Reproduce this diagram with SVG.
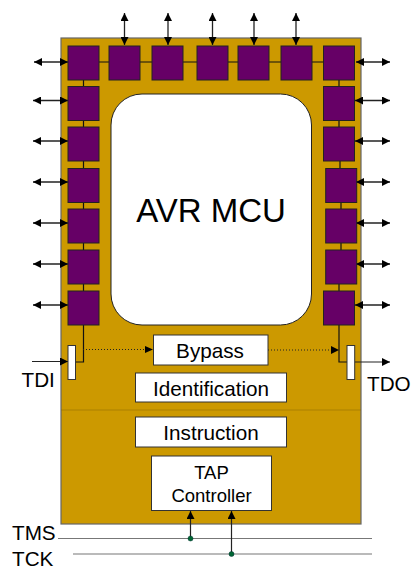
<svg xmlns="http://www.w3.org/2000/svg" width="411" height="566" viewBox="0 0 411 566">
<style>
text{font-family:"Liberation Sans",Arial,sans-serif;fill:#000}
.c{text-anchor:middle}
.sq{fill:#660066;stroke:#222;stroke-width:1}
.box{fill:#fff;stroke:#333;stroke-width:1}
.w{fill:none;stroke:#111;stroke-width:1.2}
.d{fill:none;stroke:#222;stroke-width:1;stroke-dasharray:1 2}
.a{fill:none;stroke:#222;stroke-width:1.3;marker-start:url(#h);marker-end:url(#h)}
.s{fill:none;stroke:#222;stroke-width:1.2;marker-end:url(#h)}
.b{fill:none;stroke:#777;stroke-width:1.2}
</style>
<defs>
<marker id="h" viewBox="0 0 8 8" refX="8" refY="4" markerUnits="userSpaceOnUse" markerWidth="8" markerHeight="8" orient="auto-start-reverse"><path d="M0 0L8 4L0 8Z" fill="#000"/></marker>
</defs>
<g id="chip"><rect x="61" y="38" width="300" height="486" fill="#cc9900" stroke="#666" stroke-width="1.2"/></g>
<g id="core"><rect x="111" y="94" width="200.500" height="231" rx="31" ry="31" fill="#fff" stroke="#222" stroke-width="1"/><text class="c" x="211" y="222" font-size="33">AVR MCU</text></g>
<g id="connectors">
<path class="w" d="M99 62H109M140 62H152M183 62H197M228 62H238M269 62H281M312 62H324"/>
<path class="w" d="M83.500 80V87M83.500 120V127M83.500 161V168M83.500 202V209M83.500 243V250M83.500 284V291M83.500 325V362H75.500"/>
<path class="w" d="M339 80V87M339 120V127M340 161V168M341 202V209M341 243V250M339 284V291M339 325V362H347"/>
<path class="d" d="M83 349.500H146"/><path class="d" d="M268 350H331"/>
<path d="M145 346L153 349.500L145 353ZM331 346L339 350L331 354Z" fill="#000"/>
<path d="M61.500 410H361" fill="none" stroke="#8a6a00" stroke-width="1" stroke-dasharray="1 1"/>
<path class="a" d="M124.500 13V45"/><path class="a" d="M168 13V45"/><path class="a" d="M212.500 13V45"/><path class="a" d="M254 13V45"/><path class="a" d="M296 13V45"/>
<path class="a" d="M34 62H68"/><path class="a" d="M33 100.500H68"/><path class="a" d="M33 141H68"/><path class="a" d="M33 182H68"/><path class="a" d="M33 223H68"/><path class="a" d="M33 264H68"/><path class="a" d="M33 305H68"/>
<path class="a" d="M356 62H390"/><path class="a" d="M355 100.500H390"/><path class="a" d="M355 141H390"/><path class="a" d="M356 182H390"/><path class="a" d="M356 223H390"/><path class="a" d="M356 264H390"/><path class="a" d="M355 305H390"/>
<path class="s" d="M32 361.500H68"/><path class="s" d="M355 362H390"/>
<path class="b" d="M58 538.500H372M73 554H372"/>
<path class="s" d="M190.500 538V511"/><path class="s" d="M231.500 554V511"/>
<circle cx="190.500" cy="538.500" r="2.500" fill="#006633" stroke="#033" stroke-width=".5"/><circle cx="231.500" cy="554" r="2.500" fill="#006633" stroke="#033" stroke-width=".5"/>
</g>
<g id="cells">
<rect class="sq" x="68" y="46" width="31" height="34"/><rect class="sq" x="109" y="46" width="31" height="34"/><rect class="sq" x="152" y="46" width="31" height="34"/><rect class="sq" x="197" y="46" width="31" height="34"/><rect class="sq" x="238" y="46" width="31" height="34"/><rect class="sq" x="281" y="46" width="31" height="34"/><rect class="sq" x="323.500" y="46" width="31" height="34"/>
<rect class="sq" x="68" y="86.500" width="31" height="34"/><rect class="sq" x="68" y="127" width="31" height="34"/><rect class="sq" x="68" y="168.500" width="31" height="34"/><rect class="sq" x="68" y="209" width="31" height="34"/><rect class="sq" x="68" y="250" width="31" height="34"/><rect class="sq" x="68" y="291" width="31" height="34"/>
<rect class="sq" x="323.500" y="86.500" width="31" height="34"/><rect class="sq" x="323.500" y="127" width="31" height="34"/><rect class="sq" x="325.700" y="168.500" width="31" height="34"/><rect class="sq" x="325.700" y="209" width="31" height="34"/><rect class="sq" x="325.700" y="250" width="31" height="34"/><rect class="sq" x="323.500" y="291" width="31" height="34"/>
</g>
<g id="tdi-cell"><rect class="box" x="68" y="345.500" width="7.500" height="34"/></g>
<g id="tdo-cell"><rect class="box" x="347" y="345.500" width="7.700" height="34"/></g>
<g id="bypass"><rect class="box" x="153.500" y="335" width="114.500" height="30"/><text class="c" x="210" y="357.500" font-size="20.700">Bypass</text></g>
<g id="identification"><rect class="box" x="135.500" y="373" width="151" height="29"/><text class="c" x="211" y="395.500" font-size="20.700">Identification</text></g>
<g id="instruction"><rect class="box" x="135.500" y="417" width="151" height="30"/><text class="c" x="211" y="439.500" font-size="20.700">Instruction</text></g>
<g id="tap"><rect class="box" x="151.500" y="456" width="120" height="54.500" stroke="#000"/><text class="c" x="211.500" y="479" font-size="18.500">TAP</text><text class="c" x="211.500" y="502" font-size="18.500">Controller</text></g>
<g id="labels">
<text x="21.500" y="387" font-size="20.700">TDI</text><text x="367" y="391" font-size="20.700">TDO</text><text x="12" y="540" font-size="20.700">TMS</text><text x="12" y="565.500" font-size="20.700">TCK</text>
</g>
</svg>
